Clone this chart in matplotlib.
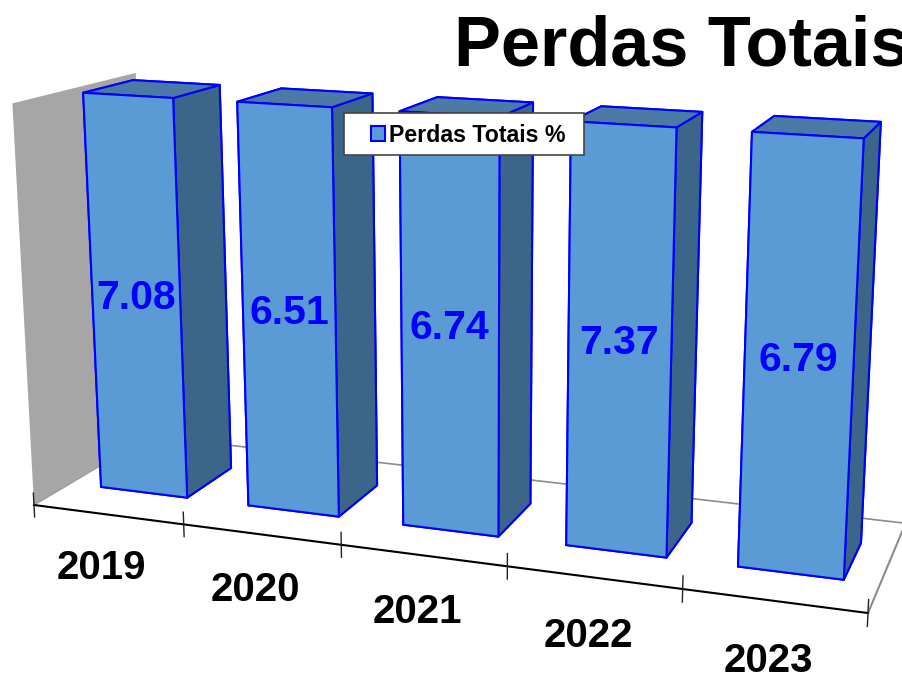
import numpy as np
import matplotlib
matplotlib.use("Agg")
import matplotlib.pyplot as plt
from matplotlib.patches import Patch, Rectangle
from mpl_toolkits.mplot3d.art3d import Poly3DCollection

plt.rcParams['font.family'] = ['Liberation Sans', 'DejaVu Sans']

years = ["2019", "2020", "2021", "2022", "2023"]
values = [7.08, 6.51, 6.74, 7.37, 6.79]
title = "Perdas Totais %"
series = "Perdas Totais %"

#the z axis stops below every value, so all bars get cut at the same height
zmax = 6.0
wall_top = 5.96

W, H = 902, 673
S = 1000
fig = plt.figure(figsize=(W/100, H/100), dpi=100)
ax = fig.add_axes([-49/W, -163.5/H, S/W, S/H], projection='3d')
ax.computed_zorder = False
ax.set_axis_off()
ax.patch.set_alpha(0)
ax.set_xlim(0, 5)
ax.set_ylim(0, 1)
ax.set_zlim(0, zmax)

#camera of the picture: data (x, y, z) to image pixels, homogeneous
cam = np.array([[145.1, 132.5, -3.72, 34.0],
                [6.28, -21.0, -68.2, 505.0],
                [-0.025, 0.11, -0.00782, 1.0]])
#has to stay negative, lines with points on the other side do not get drawn
depth = np.array([-0.1, 1.0, -0.02, -3.0])


def make_proj():
    A = ax.transData.inverted().get_matrix()
    px = cam[0]
    py = H*cam[2] - cam[1]  #image y runs down, display y runs up
    w = cam[2]
    u = A[0, 0]*px + A[0, 1]*py + A[0, 2]*w
    v = A[1, 0]*px + A[1, 1]*py + A[1, 2]*w
    return np.array([u, v, depth, w])


M = make_proj()
ax.get_proj = lambda: M

front = "#5B9BD5"
side = "#3B6589"
top = "#4A7AA5"
edge = "#0000FF"

#left wall
wall = Poly3DCollection([[(0, 0, 0), (0, 1, 0), (0, 1, wall_top), (0, 0, wall_top)]],
                        facecolor="#A6A6A6", edgecolor="none", zorder=1)
ax.add_collection3d(wall)

#floor lines
ax.plot([0, 0], [0, 1], [0, 0], color="#A0A0A0", lw=1.2, zorder=2, clip_on=False)
ax.plot([0, 5], [1, 1], [0, 0], color="#8C8C8C", lw=1.2, zorder=2, clip_on=False)
ax.plot([5, 5], [0, 1], [0, 0], color="#8C8C8C", lw=1.5, zorder=2, clip_on=False)
ax.plot([0, 5], [0, 0], [0, 0], color="black", lw=1.5, zorder=3, clip_on=False)

#ticks
for i in range(len(years)+1):
    ax.plot([i, i], [0, 0], [-0.185, 0.185], color="#222222", lw=1, zorder=3, clip_on=False)

bw = 0.59
bd = 0.415
y0 = 0.295
for i, v in enumerate(values):
    x0 = i + 0.212
    h = min(v, zmax)
    #faces: bottom, top, -y, +y, -x, +x
    ax.bar3d(x0, y0, 0, bw, bd, h, color=[front, top, front, side, side, side],
             edgecolor=edge, linewidth=1.5, shade=False, zorder=10+i)
    ax.text(x0+bw/2, y0, h/2, f"{v:.2f}", color=edge, fontsize=29.5, fontweight='bold',
            ha='center', va='center', zorder=30)
    ax.text(i+0.5, -0.07, -0.74, years[i], color="black", fontsize=29, fontweight='bold',
            ha='center', va='center', zorder=30)

fig.text(454/W, 1-66/H, title, fontsize=50.6, fontweight='bold', ha='left', va='baseline')

#legend box is wider on the left than on the right
fig.add_artist(Rectangle((344/W, 1-155/H), 240/W, 42/H, transform=fig.transFigure,
                         facecolor="white", edgecolor="#444444", lw=1.2, zorder=4))
handle = Patch(facecolor=front, edgecolor=edge, linewidth=1.5)
leg = fig.legend([handle], [series], loc='center left', bbox_to_anchor=(371/W, 1-135/H),
                 frameon=False, prop={'size': 16.7, 'weight': 'bold'}, handlelength=0.62,
                 handleheight=0.62, handletextpad=0.15, borderpad=0, borderaxespad=0)
leg.set_zorder(5)

fig.savefig("out.png", dpi=100)
